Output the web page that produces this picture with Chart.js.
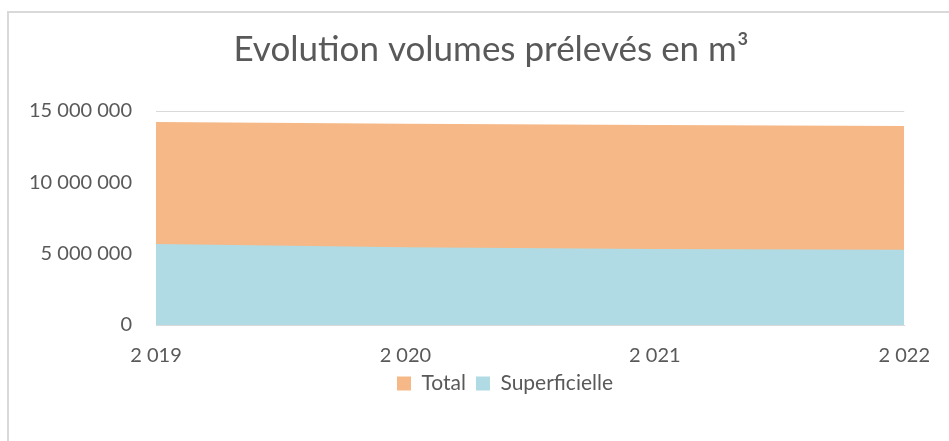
<!DOCTYPE html>
<html>
<head>
<meta charset="utf-8">
<script src="https://cdn.jsdelivr.net/npm/chart.js@4"></script>
<style>
	html, body { margin: 0; padding: 0; background: #fff; overflow: hidden; }
	#cadre { position: absolute; left: 7px; top: 11px; width: 980px; height: 480px; border: 2px solid #D9D9D9; box-sizing: border-box; }
	#zone { position: absolute; left: 0; top: 0; width: 949px; height: 441px; }
</style>
</head>
<body>
<div id="cadre"></div>
<div id="zone"><canvas id="chart_volumes"></canvas></div>
<script>
	// Volumes prélevés (m3)
	let annees = ['2 019', '2 020', '2 021', '2 022'];
	let total = [14230000, 14100000, 14010000, 13950000];
	let superficielle = [5670000, 5450000, 5320000, 5270000];
	let graduations = [0, 5000000, 10000000, 15000000];

	let gris = '#595959';
	let police = 'Lato, "Open Sans", sans-serif';

	// espaces comme séparateur de milliers
	let formatNombre = v => String(v).replace(/\B(?=(\d{3})+(?!\d))/g, ' ');

	// titre et légende un peu décalés vers la droite comme dans Excel
	let decalages = {
		id: 'decalages',
		afterLayout(chart) {
			chart.legend.left += 51;
			chart.legend.right += 51;
			chart.titleBlock.left += 37;
			chart.titleBlock.right += 37;
		}
	};

	let ctx = document.getElementById('chart_volumes');
	let data = {
		labels: annees,
		datasets: [
			{
				label: 'Total',
				data: total,
				backgroundColor: '#F5B886',
				borderWidth: 0,
				pointRadius: 0,
				fill: 'origin',
				order: 2
			},
			{
				label: 'Superficielle',
				data: superficielle,
				backgroundColor: '#B1DBE4',
				borderWidth: 0,
				pointRadius: 0,
				fill: 'origin',
				order: 1
			}
		]
	};

	let options = {
		responsive: true,
		maintainAspectRatio: false,
		animation: false,
		layout: { padding: { left: 0, right: 41, top: 0, bottom: 37 } },
		plugins: {
			title: {
				display: true,
				text: 'Evolution volumes prélevés en m³',
				color: gris,
				font: { family: police, size: 35, weight: 'normal', lineHeight: 1.2 },
				padding: { top: 29, bottom: 40 }
			},
			legend: {
				position: 'bottom',
				labels: {
					color: gris,
					font: { family: police, size: 21 },
					boxWidth: 14,
					boxHeight: 14,
					padding: 10,
					sort: (a, b) => a.datasetIndex - b.datasetIndex
				}
			},
			tooltip: { enabled: false }
		},
		scales: {
			x: {
				offset: false,
				grid: { display: false, drawTicks: false },
				border: { color: '#D9D9D9', width: 1 },
				ticks: { color: gris, font: { family: police, size: 20 }, padding: 19, maxRotation: 0 },
				afterFit: scale => { scale.height = 38; }
			},
			y: {
				min: 0,
				max: 15000000,
				grid: { color: '#D9D9D9', lineWidth: 1, drawTicks: false },
				border: { display: false },
				afterBuildTicks: scale => { scale.ticks = graduations.map(v => ({ value: v })); },
				ticks: {
					color: gris,
					font: { family: police, size: 20 },
					padding: 24,
					callback: v => formatNombre(v)
				},
				afterFit: scale => { scale.width = 156; }
			}
		}
	};

	new Chart(ctx, {
		type: 'line',
		data: data,
		options: options,
		plugins: [decalages]
	});
</script>
</body>
</html>
